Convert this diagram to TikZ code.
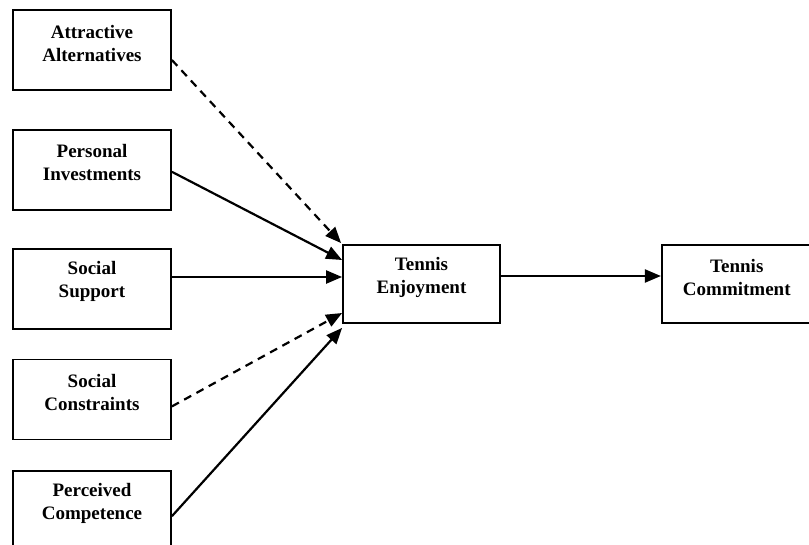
\documentclass[tikz,border=0pt]{standalone}
\usepackage{fontspec}
\setmainfont{Liberation Serif}
\usetikzlibrary{arrows.meta,calc,positioning}
\newcommand{\boxpad}{\endgraf\vspace*{14pt}}
\begin{document}
\begin{tikzpicture}[x=1pt,y=-1pt,>={Triangle[length=16pt,width=13pt]},font=\fontsize{19}{23}\selectfont\bfseries,line width=1.8pt]
\tikzstyle{box}=[draw,align=center,text width=150pt,minimum width=158pt,minimum height=80pt,inner sep=0pt,execute at end node=\boxpad]
\tikzstyle{link}=[->,line width=2.2pt]
\tikzstyle{weak}=[link,dash pattern=on 8pt off 6pt]
\useasboundingbox (0,0) rectangle (809,544);
\node[box] (alt) at (92,50) {Attractive\\ Alternatives};
\node[box,below=38pt of alt] (inv) {Personal\\ Investments};
\node[box,below=37pt of inv] (sup) {Social\\ Support};
\node[box,below=29pt of sup] (con) {Social\\ Constraints};
\node[box,below=30pt of con,minimum height=78pt] (comp) {Perceived\\ Competence};
\node[box,minimum width=157pt,minimum height=78pt] (enj) at (421.5,284) {Tennis\\ Enjoyment};
\node[box,right=160pt of enj,minimum width=147pt,minimum height=78pt] (com) {Tennis\\ Commitment};
\draw[weak] ($(alt.east)+(0,10)$) -- ($(enj.north west)+(-1,-1)$);
\draw[link] ($(inv.east)+(0,2)$) -- ($(enj.west)+(0,-24)$);
\draw[link] ($(sup.east|-enj.west)+(0,-7)$) -- ($(enj.west)+(0,-7)$);
\draw[weak] ($(con.east)+(0,7)$) -- ($(enj.west)+(0,29)$);
\draw[link] ($(comp.east)+(0,6)$) -- ($(enj.south west)+(0,4)$);
\draw[link] ($(enj.east)+(0,-8)$) -- ($(com.west)+(0,-8)$);
\end{tikzpicture}
\end{document}
